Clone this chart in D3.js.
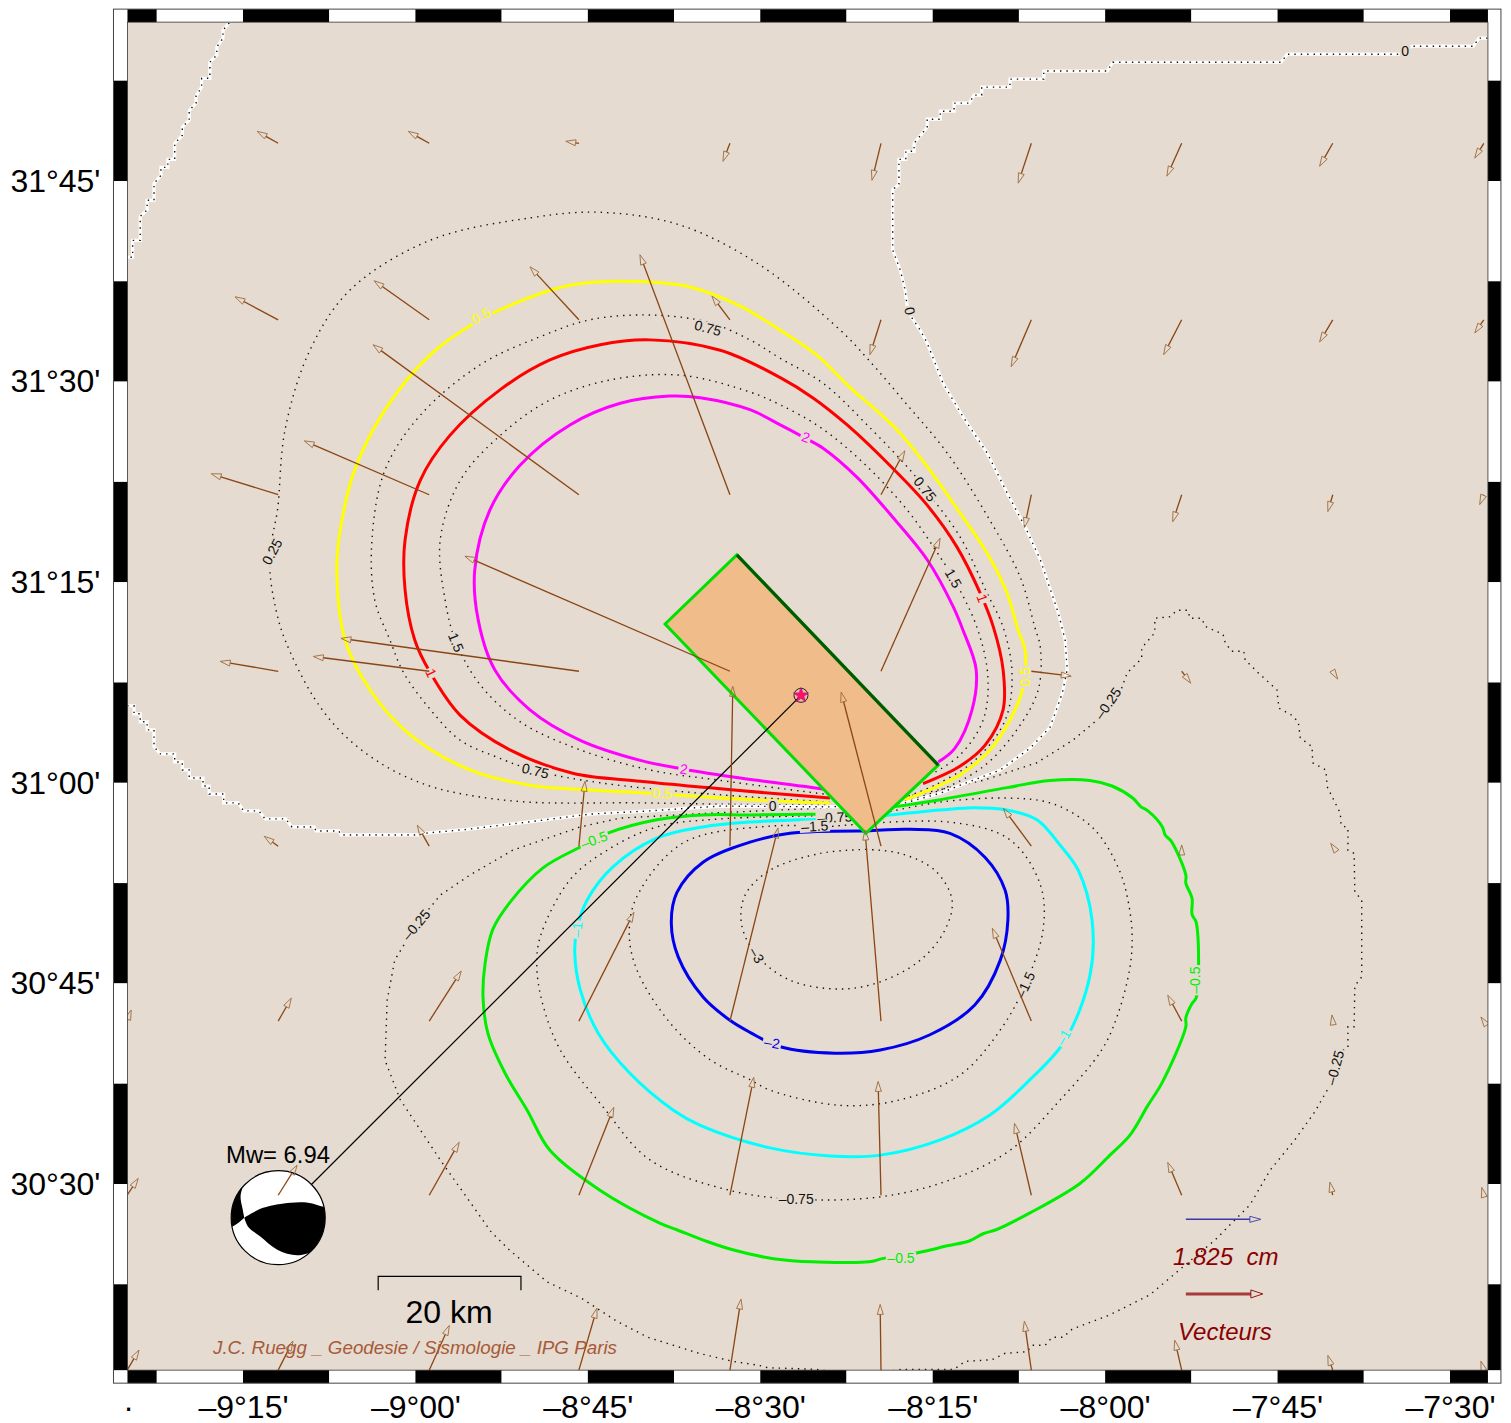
<!DOCTYPE html>
<html>
<head>
<meta charset="utf-8">
<script src="https://cdn.jsdelivr.net/npm/d3@7"></script>
<style>
  body { margin: 0; background: #fff; }
  text { font-family: "Liberation Sans", Arial, sans-serif; }
</style>
</head>
<body>
<div id="chart"></div>
<script>
// DATA
// Axis ticks
var lonTicks = [-9.4167, -9.25, -9, -8.75, -8.5, -8.25, -8, -7.75, -7.5];
var lonTickLabels = ["·", "–9°15'", "–9°00'", "–8°45'", "–8°30'", "–8°15'", "–8°00'", "–7°45'", "–7°30'"];
var latTicks = [31.75, 31.5, 31.25, 31, 30.75, 30.5];
var latTickLabels = ["31°45'", "31°30'", "31°15'", "31°00'", "30°45'", "30°30'"];

// Contours, [lon, lat]
var zeroNW = [[-9.270,31.947],[-9.279,31.938],[-9.279,31.928],[-9.288,31.917],[-9.288,31.907],[-9.298,31.898],[-9.298,31.878],[-9.310,31.878],[-9.310,31.867],[-9.318,31.856],[-9.318,31.847],[-9.328,31.838],[-9.328,31.826],[-9.338,31.817],[-9.338,31.807],[-9.349,31.797],[-9.349,31.777],[-9.359,31.777],[-9.359,31.767],[-9.369,31.767],[-9.369,31.757],[-9.379,31.747],[-9.379,31.726],[-9.389,31.726],[-9.389,31.714],[-9.399,31.706],[-9.399,31.676],[-9.410,31.676],[-9.410,31.655],[-9.418,31.655]];
var zeroMain = [[-9.418,31.096],[-9.408,31.096],[-9.408,31.086],[-9.399,31.086],[-9.399,31.076],[-9.389,31.076],[-9.389,31.066],[-9.379,31.066],[-9.379,31.045],[-9.370,31.036],[-9.349,31.036],[-9.349,31.026],[-9.338,31.026],[-9.338,31.016],[-9.328,31.016],[-9.328,31.006],[-9.308,31.006],[-9.308,30.996],[-9.299,30.996],[-9.299,30.986],[-9.278,30.986],[-9.278,30.975],[-9.257,30.975],[-9.249,30.965],[-9.227,30.965],[-9.218,30.955],[-9.188,30.955],[-9.179,30.945],[-9.147,30.945],[-9.144,30.940],[-9.111,30.940],[-9.108,30.935],[-8.995,30.935],[-8.988,30.937],[-8.925,30.942],[-8.838,30.951],[-8.747,30.961],[-8.660,30.965],[-8.558,30.971],[-8.399,30.970],[-8.290,30.975],[-8.239,30.987],[-8.210,30.997],[-8.152,31.016],[-8.109,31.043],[-8.080,31.069],[-8.062,31.112],[-8.055,31.141],[-8.058,31.178],[-8.068,31.212],[-8.094,31.278],[-8.116,31.319],[-8.142,31.361],[-8.171,31.411],[-8.206,31.456],[-8.235,31.498],[-8.258,31.548],[-8.268,31.564],[-8.286,31.587],[-8.290,31.614],[-8.297,31.639],[-8.308,31.664],[-8.308,31.689],[-8.308,31.739],[-8.299,31.746],[-8.299,31.777],[-8.289,31.777],[-8.289,31.787],[-8.277,31.787],[-8.277,31.797],[-8.258,31.817],[-8.258,31.827],[-8.239,31.827],[-8.239,31.837],[-8.219,31.837],[-8.219,31.847],[-8.197,31.847],[-8.190,31.857],[-8.179,31.857],[-8.179,31.867],[-8.138,31.867],[-8.138,31.877],[-8.089,31.877],[-8.089,31.887],[-7.997,31.887],[-7.989,31.898],[-7.745,31.898],[-7.736,31.908],[-7.572,31.908],[-7.555,31.918],[-7.466,31.918],[-7.458,31.928],[-7.445,31.928]];
var plus050 = [[-8.290,30.979],[-8.261,30.989],[-8.210,31.010],[-8.167,31.041],[-8.138,31.078],[-8.120,31.116],[-8.116,31.165],[-8.126,31.190],[-8.142,31.236],[-8.171,31.286],[-8.215,31.342],[-8.258,31.394],[-8.302,31.440],[-8.374,31.496],[-8.418,31.533],[-8.471,31.564],[-8.529,31.594],[-8.602,31.618],[-8.703,31.625],[-8.776,31.620],[-8.834,31.605],[-8.906,31.577],[-8.979,31.533],[-9.044,31.465],[-9.088,31.390],[-9.109,31.315],[-9.114,31.265],[-9.102,31.178],[-9.066,31.116],[-9.008,31.060],[-8.921,31.016],[-8.834,30.997],[-8.747,30.991],[-8.660,30.987],[-8.558,30.981],[-8.442,30.976],[-8.399,30.975]];
var plus100 = [[-8.264,30.999],[-8.210,31.021],[-8.174,31.047],[-8.148,31.091],[-8.148,31.141],[-8.162,31.194],[-8.181,31.236],[-8.215,31.294],[-8.258,31.346],[-8.308,31.392],[-8.374,31.446],[-8.424,31.480],[-8.471,31.505],[-8.558,31.539],[-8.660,31.552],[-8.732,31.546],[-8.805,31.527],[-8.877,31.490],[-8.950,31.433],[-8.993,31.377],[-9.015,31.303],[-9.015,31.240],[-9.001,31.178],[-8.979,31.138],[-8.935,31.084],[-8.863,31.041],[-8.772,31.012],[-8.674,31.002],[-8.577,30.994],[-8.471,30.986],[-8.399,30.981]];
var plus200 = [[-8.242,31.026],[-8.218,31.043],[-8.193,31.091],[-8.187,31.141],[-8.206,31.190],[-8.220,31.219],[-8.258,31.278],[-8.308,31.331],[-8.360,31.381],[-8.409,31.417],[-8.438,31.431],[-8.471,31.446],[-8.515,31.465],[-8.587,31.480],[-8.631,31.482],[-8.703,31.473],[-8.776,31.446],[-8.848,31.396],[-8.892,31.340],[-8.914,31.265],[-8.909,31.203],[-8.885,31.141],[-8.834,31.091],[-8.761,31.053],[-8.674,31.028],[-8.611,31.017],[-8.529,31.006],[-8.432,30.995],[-8.399,30.991]];
var minus050 = [[-8.399,30.961],[-8.308,30.970],[-8.239,30.979],[-8.142,30.994],[-8.080,31.003],[-8.022,31.003],[-7.990,30.996],[-7.960,30.981],[-7.948,30.970],[-7.938,30.965],[-7.917,30.945],[-7.913,30.935],[-7.904,30.927],[-7.883,30.885],[-7.883,30.875],[-7.874,30.856],[-7.874,30.836],[-7.868,30.826],[-7.868,30.732],[-7.874,30.725],[-7.883,30.707],[-7.883,30.696],[-7.917,30.627],[-7.938,30.598],[-7.964,30.561],[-7.993,30.536],[-8.036,30.501],[-8.109,30.464],[-8.158,30.443],[-8.177,30.438],[-8.197,30.429],[-8.229,30.423],[-8.252,30.418],[-8.279,30.413],[-8.323,30.407],[-8.342,30.403],[-8.426,30.403],[-8.450,30.404],[-8.489,30.408],[-8.540,30.418],[-8.576,30.428],[-8.621,30.443],[-8.645,30.451],[-8.732,30.492],[-8.805,30.542],[-8.838,30.592],[-8.870,30.638],[-8.895,30.688],[-8.902,30.733],[-8.899,30.775],[-8.888,30.817],[-8.863,30.851],[-8.815,30.894],[-8.761,30.920],[-8.722,30.937],[-8.650,30.954],[-8.583,30.960],[-8.515,30.960],[-8.399,30.961]];
var minus100 = [[-8.406,30.954],[-8.312,30.960],[-8.239,30.966],[-8.192,30.969],[-8.142,30.966],[-8.099,30.954],[-8.065,30.922],[-8.039,30.891],[-8.019,30.829],[-8.022,30.760],[-8.058,30.679],[-8.109,30.630],[-8.167,30.586],[-8.239,30.555],[-8.326,30.536],[-8.399,30.535],[-8.486,30.545],[-8.587,30.573],[-8.626,30.592],[-8.689,30.638],[-8.735,30.688],[-8.761,30.742],[-8.769,30.788],[-8.766,30.817],[-8.751,30.854],[-8.714,30.895],[-8.650,30.931],[-8.583,30.945],[-8.515,30.951],[-8.432,30.954],[-8.406,30.954]];
var minus200 = [[-8.347,30.940],[-8.283,30.942],[-8.225,30.937],[-8.174,30.907],[-8.145,30.866],[-8.141,30.829],[-8.152,30.779],[-8.189,30.723],[-8.254,30.686],[-8.326,30.667],[-8.392,30.663],[-8.471,30.671],[-8.515,30.689],[-8.544,30.704],[-8.583,30.733],[-8.619,30.783],[-8.629,30.825],[-8.621,30.863],[-8.583,30.901],[-8.515,30.926],[-8.457,30.937],[-8.347,30.940]];
var plus025 = [[-8.290,30.977],[-8.239,30.991],[-8.177,31.020],[-8.128,31.066],[-8.097,31.116],[-8.094,31.169],[-8.102,31.194],[-8.123,31.256],[-8.167,31.327],[-8.229,31.411],[-8.287,31.471],[-8.345,31.529],[-8.384,31.564],[-8.500,31.645],[-8.616,31.695],[-8.732,31.711],[-8.834,31.704],[-8.979,31.676],[-9.095,31.614],[-9.153,31.539],[-9.189,31.440],[-9.200,31.340],[-9.208,31.303],[-9.211,31.265],[-9.202,31.215],[-9.189,31.178],[-9.147,31.106],[-9.104,31.060],[-9.046,31.022],[-8.983,30.997],[-8.925,30.985],[-8.838,30.976],[-8.674,30.975],[-8.529,30.973],[-8.399,30.972]];
var plus075 = [[-8.399,30.976],[-8.587,30.987],[-8.732,31.000],[-8.826,31.015],[-8.882,31.032],[-8.935,31.053],[-8.980,31.093],[-9.017,31.137],[-9.037,31.178],[-9.059,31.228],[-9.063,31.303],[-9.044,31.390],[-8.993,31.458],[-8.906,31.521],[-8.819,31.556],[-8.747,31.577],[-8.660,31.583],[-8.576,31.574],[-8.515,31.552],[-8.471,31.529],[-8.409,31.498],[-8.345,31.446],[-8.279,31.386],[-8.261,31.366],[-8.210,31.306],[-8.171,31.236],[-8.148,31.194],[-8.135,31.137],[-8.145,31.078],[-8.189,31.028],[-8.247,30.997],[-8.290,30.982]];
var plus150 = [[-8.399,30.985],[-8.558,31.003],[-8.660,31.016],[-8.761,31.041],[-8.848,31.076],[-8.906,31.122],[-8.941,31.175],[-8.957,31.228],[-8.964,31.303],[-8.935,31.377],[-8.877,31.433],[-8.805,31.477],[-8.718,31.502],[-8.616,31.508],[-8.515,31.487],[-8.471,31.471],[-8.413,31.443],[-8.351,31.399],[-8.287,31.340],[-8.239,31.281],[-8.220,31.255],[-8.186,31.194],[-8.170,31.132],[-8.177,31.078],[-8.210,31.035],[-8.247,31.013]];
var minus025 = [[-8.399,30.969],[-8.308,30.979],[-8.177,31.003],[-8.099,31.025],[-8.047,31.053],[-8.012,31.078],[-7.996,31.099],[-7.976,31.118],[-7.968,31.137],[-7.947,31.155],[-7.947,31.168],[-7.928,31.187],[-7.928,31.205],[-7.906,31.207],[-7.896,31.215],[-7.880,31.215],[-7.877,31.205],[-7.860,31.205],[-7.855,31.195],[-7.829,31.185],[-7.826,31.175],[-7.817,31.164],[-7.799,31.164],[-7.797,31.153],[-7.778,31.137],[-7.751,31.116],[-7.748,31.093],[-7.729,31.084],[-7.720,31.076],[-7.717,31.056],[-7.700,31.045],[-7.699,31.025],[-7.680,31.016],[-7.678,30.995],[-7.659,30.962],[-7.658,30.947],[-7.648,30.944],[-7.648,30.916],[-7.639,30.912],[-7.638,30.864],[-7.628,30.854],[-7.628,30.758],[-7.638,30.747],[-7.639,30.696],[-7.648,30.696],[-7.648,30.670],[-7.658,30.665],[-7.667,30.645],[-7.674,30.623],[-7.696,30.590],[-7.725,30.555],[-7.761,30.517],[-7.790,30.474],[-7.841,30.430],[-7.884,30.399],[-7.935,30.362],[-7.993,30.337],[-8.048,30.319],[-8.061,30.309],[-8.077,30.309],[-8.087,30.299],[-8.106,30.299],[-8.113,30.291],[-8.145,30.289],[-8.164,30.281],[-8.203,30.279],[-8.219,30.269],[-8.295,30.269],[-8.355,30.261],[-8.418,30.269],[-8.489,30.271],[-8.502,30.274],[-8.540,30.279],[-8.589,30.289],[-8.663,30.309],[-8.708,30.329],[-8.760,30.358],[-8.809,30.378],[-8.838,30.399],[-8.864,30.418],[-8.890,30.440],[-8.964,30.530],[-9.022,30.605],[-9.044,30.654],[-9.041,30.729],[-9.030,30.779],[-8.999,30.823],[-8.964,30.860],[-8.921,30.885],[-8.859,30.916],[-8.761,30.945],[-8.703,30.956],[-8.577,30.962],[-8.399,30.969]];
var minus075 = [[-8.406,30.959],[-8.558,30.955],[-8.650,30.945],[-8.722,30.916],[-8.776,30.879],[-8.819,30.808],[-8.824,30.771],[-8.816,30.726],[-8.790,30.667],[-8.728,30.596],[-8.660,30.530],[-8.544,30.492],[-8.448,30.481],[-8.326,30.484],[-8.225,30.505],[-8.138,30.542],[-8.065,30.605],[-8.005,30.667],[-7.983,30.708],[-7.964,30.770],[-7.961,30.813],[-7.967,30.854],[-7.978,30.888],[-8.005,30.931],[-8.032,30.954],[-8.080,30.975],[-8.142,30.981],[-8.239,30.976],[-8.312,30.964]];
var minus150 = [[-8.405,30.945],[-8.225,30.951],[-8.138,30.929],[-8.094,30.873],[-8.090,30.817],[-8.116,30.748],[-8.152,30.692],[-8.210,30.636],[-8.297,30.605],[-8.384,30.598],[-8.486,30.617],[-8.515,30.630],[-8.573,30.655],[-8.631,30.701],[-8.679,30.767],[-8.690,30.813],[-8.679,30.858],[-8.612,30.925],[-8.486,30.946],[-8.405,30.945]];
var minus300 = [[-8.347,30.917],[-8.297,30.912],[-8.247,30.891],[-8.222,30.854],[-8.232,30.817],[-8.268,30.779],[-8.326,30.752],[-8.384,30.743],[-8.457,30.754],[-8.505,30.785],[-8.527,30.823],[-8.522,30.860],[-8.486,30.891],[-8.413,30.912],[-8.347,30.917]];

// Contour labels: level, text, lon, lat, angle
var contourLabels = [
  ["0", "0", -7.565, 31.912, 0], ["0", "0", -8.283, 31.588, 80], ["0", "0", -8.482, 30.971, 0],
  ["p025", "0.25", -9.208, 31.288, -62],
  ["p075", "0.75", -8.576, 31.567, 15], ["p075", "0.75", -8.261, 31.366, 52], ["p075", "0.75", -8.826, 31.015, 13],
  ["p150", "1.5", -8.220, 31.255, 60], ["p150", "1.5", -8.941, 31.175, 68],
  ["p050", "0.5", -8.905, 31.582, -28], ["p050", "0.5", -8.116, 31.132, -90], ["p050", "0.5", -8.642, 30.987, 3],
  ["p100", "1", -8.178, 31.230, 70], ["p100", "1", -8.977, 31.137, 65],
  ["p200", "2", -8.434, 31.431, 20], ["p200", "2", -8.611, 31.017, 8],
  ["m050", "–0.5", -8.741, 30.929, -20], ["m050", "–0.5", -7.870, 30.754, -90], ["m050", "–0.5", -8.296, 30.408, 0],
  ["m100", "–1", -8.766, 30.817, -85], ["m100", "–1", -8.061, 30.683, -60],
  ["m200", "–2", -8.483, 30.676, 10],
  ["m025", "–0.25", -8.999, 30.823, -50], ["m025", "–0.25", -7.996, 31.099, -55], ["m025", "–0.25", -7.667, 30.645, -75],
  ["m075", "–0.75", -8.448, 30.481, 0], ["m075", "–0.75", -8.392, 30.957, -3],
  ["m150", "–1.5", -8.421, 30.946, -3], ["m150", "–1.5", -8.116, 30.748, -65],
  ["m300", "–3", -8.505, 30.785, 60]
];

// Displacement vectors on a regular grid, cm
var gridLons = [-9.418, -9.199, -8.980, -8.763, -8.544, -8.325, -8.107, -7.889, -7.670, -7.451];
var gridLats = [31.797, 31.577, 31.359, 31.139, 30.921, 30.703, 30.486, 30.268];
var vecEast = [
  [-0.36, -0.51, -0.51, -0.32, -0.17, -0.22, -0.32, -0.36, -0.32, -0.22],
  [-0.36, -1.05, -1.34, -1.19, -0.44, -0.27, -0.49, -0.44, -0.32, -0.22],
  [null, -1.63, -3.04, -5.01, -2.19, 0.58, -0.17, -0.22, -0.12, -0.10],
  [null, -1.41, -2.82, -5.79, -6.45, 1.44, 0.97, 0.22, 0.12, null],
  [null, -0.34, -0.29, 0.15, 0.07, -0.97, -0.68, 0.00, -0.05, null],
  [0.10, 0.32, 0.78, 1.34, 1.17, -0.39, -0.95, -0.34, -0.02, -0.07],
  [0.27, 0.46, 0.73, 0.85, 0.58, -0.07, -0.41, -0.34, -0.07, -0.05],
  [0.29, 0.36, 0.49, 0.44, 0.27, -0.02, -0.17, -0.17, -0.12, -0.07]
];
var vecNorth = [
  [0.12, 0.29, 0.29, 0.05, -0.44, -0.90, -0.97, -0.80, -0.56, -0.36],
  [0.19, 0.56, 0.95, 1.29, 0.58, -0.85, -1.14, -0.85, -0.54, -0.32],
  [null, 0.51, 1.31, 3.65, 5.84, 1.07, -0.80, -0.66, -0.41, -0.24],
  [null, 0.24, 0.36, 0.80, 2.80, 3.24, -0.12, -0.29, -0.19, null],
  [null, 0.24, 0.51, 1.58, 3.89, 3.75, 0.92, 0.03, 0.07, null],
  [0.27, 0.56, 1.22, 2.65, 4.70, 4.65, 2.26, 0.63, 0.15, 0.10],
  [0.41, 0.73, 1.29, 2.14, 2.87, 2.77, 1.75, 0.80, 0.32, 0.19],
  [0.49, 0.71, 1.09, 1.51, 1.73, 1.60, 1.19, 0.73, 0.36, 0.22]
];

// Fault plane, epicentre, focal mechanism
var faultCorners = [[-8.534,31.284],[-8.638,31.198],[-8.347,30.937],[-8.242,31.022]];
var epicenter = [-8.441, 31.109];
var ballCenter = [-9.199, 30.458];
var magnitude = 6.94;
var refLength = 1.825;
// nodal regions in unit-radius coordinates
var ballBlackMain = [[-.72,0],[-.72,0],[-.32,-.21],[.26,-.32],[.64,-.32],[.98,-.23],[1.3,-.2],[1.3,.6],[.9,1.05],[.68,.74],[.68,.74],[.4,.8],[-.02,.68],[-.38,.4],[-.64,.19],[-.72,0]];
var ballBlackWest = [[-.74,-.7],[-.8,-.45],[-.76,-.2],[-.72,0],[-.72,0],[-1,.2],[-1.3,.2],[-1.3,-.5],[-.74,-.7]];

// SET UP
var width = 1511, height = 1423;
var svg = d3.select("#chart").append("svg")
    .attr("width", width)
    .attr("height", height);

var x = d3.scaleLinear().domain([-9.25, -7.5]).range([243, 1450]);
var y = d3.scaleLinear().domain([31.75, 30.5]).range([181, 1184]);
var vecScale = d3.scaleLinear().domain([0, refLength]).range([0, 75]);

var lonMin = -9.4175, lonMax = -7.445, latMax = 31.948, latMin = 30.268;
var bandSize = 14;
var left = x(lonMin), right = x(lonMax), top_ = y(latMax), bottom = y(latMin);

var bg = "#E5DBD0";
svg.append("clipPath").attr("id", "mapClip").append("rect")
    .attr("x", left).attr("y", top_).attr("width", right - left).attr("height", bottom - top_);

svg.append("rect")
    .attr("x", left).attr("y", top_).attr("width", right - left).attr("height", bottom - top_)
    .attr("fill", bg);

var map = svg.append("g").attr("clip-path", "url(#mapClip)");

var line = d3.line().x(d => x(d[0])).y(d => y(d[1]));
var smooth = d3.line().x(d => x(d[0])).y(d => y(d[1])).curve(d3.curveCatmullRom.alpha(0.5));

// CONTOURS
// dotted ones first
var dots = "1.4 5";
[plus025, plus075, plus150, minus075, minus150, minus300].forEach(function(c) {
  map.append("path").attr("d", smooth(c)).attr("fill", "none")
      .attr("stroke", "#111").attr("stroke-width", 1.4).attr("stroke-dasharray", dots);
});
map.append("path").attr("d", line(minus025)).attr("fill", "none")
    .attr("stroke", "#111").attr("stroke-width", 1.4).attr("stroke-dasharray", dots);

// zero line: white under black dots
[zeroNW, zeroMain].forEach(function(c) {
  map.append("path").attr("d", line(c)).attr("fill", "none").attr("stroke", "#fff").attr("stroke-width", 3.2);
  map.append("path").attr("d", line(c)).attr("fill", "none")
      .attr("stroke", "#111").attr("stroke-width", 1.4).attr("stroke-dasharray", dots);
});

// coloured levels
var levelColors = {p050: "#ffff00", p100: "#ff0000", p200: "#ff00ff", m050: "#00ee00", m100: "#00ffff", m200: "#0000ee"};
[[plus050, "p050"], [plus100, "p100"], [plus200, "p200"], [minus050, "m050"], [minus100, "m100"], [minus200, "m200"]].forEach(function(c) {
  map.append("path").attr("d", smooth(c[0])).attr("fill", "none")
      .attr("stroke", levelColors[c[1]]).attr("stroke-width", 3);
});

// labels cut a gap in their line
contourLabels.forEach(function(l) {
  var g = map.append("g")
      .attr("transform", "translate(" + x(l[2]) + "," + y(l[3]) + ") rotate(" + l[4] + ")");
  var back = g.append("rect").attr("fill", bg);
  var t = g.append("text")
      .attr("text-anchor", "middle").attr("dy", "0.36em")
      .attr("font-size", 14)
      .attr("fill", levelColors[l[0]] || "#111")
      .text(l[1]);
  var w = t.node().getComputedTextLength() + 3;
  back.attr("x", -w / 2).attr("y", -6).attr("width", w).attr("height", 12);
});

// FAULT PLANE
map.append("path")
    .attr("d", line(faultCorners) + "Z")
    .attr("fill", "#EFBC8A").attr("stroke", "#00e000").attr("stroke-width", 3).attr("stroke-linejoin", "miter");
map.append("path")
    .attr("d", line([faultCorners[0], faultCorners[3]]))
    .attr("stroke", "#005a00").attr("stroke-width", 3.2);

// FOCAL MECHANISM
var ballR = 47;
var bx = x(ballCenter[0]), by = y(ballCenter[1]);
map.append("line")
    .attr("x1", x(epicenter[0])).attr("y1", y(epicenter[1]))
    .attr("x2", bx).attr("y2", by)
    .attr("stroke", "#000").attr("stroke-width", 1.2);

svg.append("clipPath").attr("id", "ballClip").append("circle").attr("cx", bx).attr("cy", by).attr("r", ballR);
var ball = map.append("g");
ball.append("circle").attr("cx", bx).attr("cy", by).attr("r", ballR).attr("fill", "#fff");
var ballLine = d3.line().x(d => bx + d[0] * ballR).y(d => by + d[1] * ballR).curve(d3.curveCatmullRom.alpha(0.5));
[ballBlackMain, ballBlackWest].forEach(function(p) {
  ball.append("path").attr("d", ballLine(p) + "Z").attr("fill", "#000").attr("clip-path", "url(#ballClip)");
});
ball.append("circle").attr("cx", bx).attr("cy", by).attr("r", ballR).attr("fill", "none").attr("stroke", "#000").attr("stroke-width", 1.2);

// VECTORS
function drawVector(g, x0, y0, dx, dy, shaftColor, shaftWidth, headColor, headLen, headHalf) {
  var len = Math.hypot(dx, dy) || 1;
  var ux = dx / len, uy = dy / len;
  var tipX = x0 + dx, tipY = y0 + dy;
  var baseX = tipX - ux * headLen, baseY = tipY - uy * headLen;
  if (len > headLen) {
    g.append("line").attr("x1", x0).attr("y1", y0).attr("x2", baseX).attr("y2", baseY)
        .attr("stroke", shaftColor).attr("stroke-width", shaftWidth);
  }
  g.append("path")
      .attr("d", d3.line()([[tipX, tipY], [baseX - uy * headHalf, baseY + ux * headHalf], [baseX + uy * headHalf, baseY - ux * headHalf]]) + "Z")
      .attr("fill", "none").attr("stroke", headColor).attr("stroke-width", 0.9);
}

var vectors = map.append("g");
gridLats.forEach(function(lat, r) {
  gridLons.forEach(function(lon, c) {
    if (vecEast[r][c] === null) return;
    drawVector(vectors, x(lon), y(lat), vecScale(vecEast[r][c]), -vecScale(vecNorth[r][c]),
        "#8B4513", 1.3, "#9c6b3c", 10, 3);
  });
});

// EPICENTRE
map.append("circle")
    .attr("cx", x(epicenter[0])).attr("cy", y(epicenter[1])).attr("r", 7)
    .attr("fill", "none").attr("stroke", "#222").attr("stroke-width", 1);
map.append("path")
    .attr("d", d3.symbol().type(d3.symbolStar).size(70)())
    .attr("transform", "translate(" + x(epicenter[0]) + "," + y(epicenter[1]) + ")")
    .attr("fill", "#ff1060").attr("stroke", "#b000c0").attr("stroke-width", 0.6);

// ANNOTATION
map.append("text").attr("x", 278).attr("y", 1163).attr("text-anchor", "middle")
    .attr("font-size", 23.8).attr("fill", "#000").text("Mw= " + magnitude);

// 20 km scale bar
var barLat = y(30.385);
map.append("path")
    .attr("d", "M" + x(-9.054) + "," + (barLat + 14) + "V" + barLat + "H" + x(-8.847) + "V" + (barLat + 14))
    .attr("fill", "none").attr("stroke", "#000").attr("stroke-width", 1.2);
map.append("text").attr("x", 449).attr("y", 1323).attr("text-anchor", "middle")
    .attr("font-size", 32).attr("fill", "#000").text("20 km");

map.append("text").attr("x", 213).attr("y", 1354)
    .attr("font-size", 18.8).attr("font-style", "italic").attr("fill", "#A65A38")
    .text("J.C. Ruegg _ Geodesie / Sismologie _ IPG Paris");

// reference vectors
var legend = map.append("g");
drawVector(legend, x(-7.883), y(30.456), vecScale(refLength), 0, "#3a3aa8", 1.5, "#3a3aa8", 11, 3);
legend.append("text").attr("x", 1173).attr("y", 1265)
    .attr("font-size", 24).attr("font-style", "italic").attr("fill", "#8B0000")
    .attr("xml:space", "preserve").text("1.825  cm");
drawVector(legend, x(-7.883), y(30.363), vecScale(refLength) + 2, 0, "#a83a3a", 3, "#8B0000", 12, 4);
legend.append("text").attr("x", 1178).attr("y", 1340)
    .attr("font-size", 24).attr("font-style", "italic").attr("fill", "#8B0000")
    .text("Vecteurs");

// FRAME
// checkered border, one cell every 7.5 minutes
var frame = svg.append("g");
function cell(x0, y0, w, h, black) {
  frame.append("rect").attr("x", x0).attr("y", y0).attr("width", w).attr("height", h)
      .attr("fill", black ? "#000" : "#fff");
}
var lonEdges = [lonMin].concat(d3.range(-9.375, -7.4, 0.125)).concat([lonMax]);
d3.pairs(lonEdges).forEach(function(p, i) {
  var black = i % 2 === 0;
  cell(x(p[0]), top_ - bandSize + 1, x(p[1]) - x(p[0]), bandSize - 1, black);
  cell(x(p[0]), bottom, x(p[1]) - x(p[0]), bandSize - 1, black);
});
var latEdges = [latMax].concat(d3.range(31.875, 30.3, -0.125)).concat([latMin]);
d3.pairs(latEdges).forEach(function(p, i) {
  var black = i % 2 === 1;
  cell(left - bandSize, y(p[0]), bandSize, y(p[1]) - y(p[0]), black);
  cell(right, y(p[0]), bandSize - 1, y(p[1]) - y(p[0]), black);
});
frame.append("rect")
    .attr("x", left - bandSize).attr("y", top_ - bandSize + 1)
    .attr("width", right - left + 2 * bandSize - 1).attr("height", bottom - top_ + 2 * bandSize - 2)
    .attr("fill", "none").attr("stroke", "#444").attr("stroke-width", 1);
frame.append("rect")
    .attr("x", left).attr("y", top_).attr("width", right - left).attr("height", bottom - top_)
    .attr("fill", "none").attr("stroke", "#333").attr("stroke-width", 0.8);

// AXES
var xAxis = svg.append("g")
    .attr("transform", "translate(0," + (bottom + bandSize - 1) + ")")
    .call(d3.axisBottom(x).tickValues(lonTicks).tickSize(0).tickPadding(12)
        .tickFormat((d, i) => lonTickLabels[i]));
var yAxis = svg.append("g")
    .attr("transform", "translate(" + (left - bandSize) + ",0)")
    .call(d3.axisLeft(y).tickValues(latTicks).tickSize(0).tickPadding(13)
        .tickFormat((d, i) => latTickLabels[i]));
[xAxis, yAxis].forEach(function(a) {
  a.select(".domain").remove();
  a.selectAll("text")
      .attr("font-family", "Liberation Sans, Arial, sans-serif")
      .attr("font-size", 32).attr("fill", "#000");
});
</script>
</body>
</html>
